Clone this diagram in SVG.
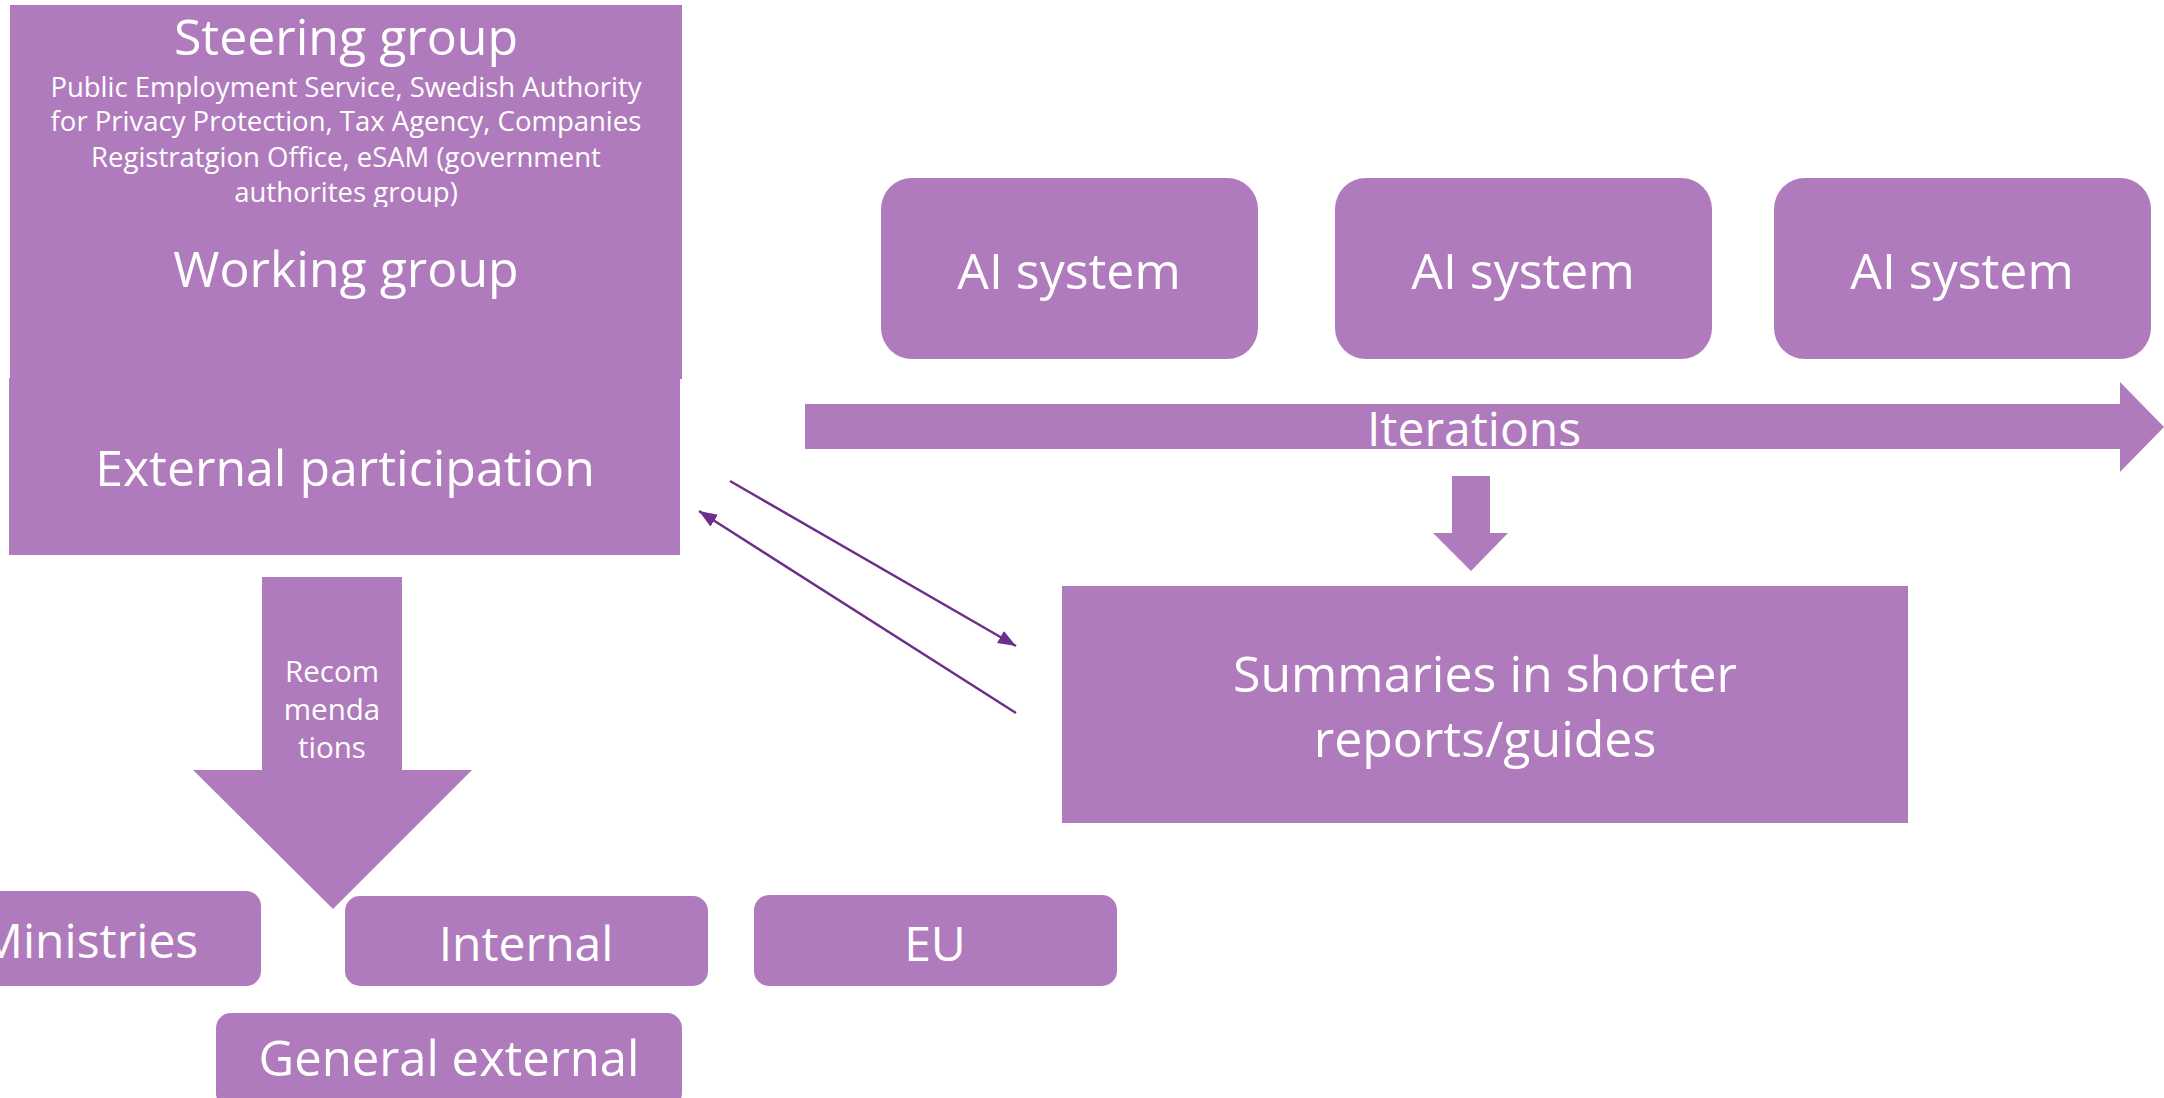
<svg xmlns="http://www.w3.org/2000/svg" width="2164" height="1098" viewBox="0 0 2164 1098">
<style>
.f{fill:#B07BBD}
.t{fill:#FFFFFF;font-family:"Open Sans","Noto Sans","Liberation Sans",sans-serif;text-anchor:middle}
.big{font-size:50px}
.sub{font-size:27.5px}
.rec{font-size:29.5px}
.ln{stroke:#6E2E8A;stroke-width:2.5;fill:none}
</style>
<defs>
<marker id="ah" markerUnits="userSpaceOnUse" markerWidth="20" markerHeight="14" refX="18" refY="7" orient="auto">
<path d="M0,0 L18,7 L0,14 z" fill="#6E2E8A"/>
</marker>
</defs>
<rect width="2164" height="1098" fill="#FFFFFF"/>

<g id="steering-group">
<rect class="f" x="10" y="5" width="672" height="203"/>
<text class="t big" x="346" y="55">Steering group</text>
<text class="t sub" x="346" y="97">Public Employment Service, Swedish Authority</text>
<text class="t sub" x="346" y="131">for Privacy Protection, Tax Agency, Companies</text>
<text class="t sub" x="346" y="167">Registratgion Office, eSAM (government</text>
<text class="t sub" x="346" y="202">authorites group)</text>
</g>

<g id="working-group">
<rect class="f" x="10" y="207" width="672" height="172"/>
<text class="t big" x="346" y="287">Working group</text>
</g>

<g id="external-participation">
<rect class="f" x="9" y="378" width="671" height="177"/>
<text class="t big" x="345" y="486">External participation</text>
</g>

<g id="ai-system-1">
<rect class="f" x="881" y="178" width="377" height="181" rx="31"/>
<text class="t big" x="1069" y="289">AI system</text>
</g>
<g id="ai-system-2">
<rect class="f" x="1335" y="178" width="377" height="181" rx="31"/>
<text class="t big" x="1523" y="289">AI system</text>
</g>
<g id="ai-system-3">
<rect class="f" x="1774" y="178" width="377" height="181" rx="31"/>
<text class="t big" x="1962" y="289">AI system</text>
</g>

<g id="iterations">
<polygon class="f" points="805,404 2120,404 2120,382 2164,427 2120,472 2120,449 805,449"/>
<text class="t" style="font-size:48px" x="1474" y="446">Iterations</text>
</g>

<g id="down-arrow">
<polygon class="f" points="1452,476 1490,476 1490,533 1508,533 1471,571 1433,533 1452,533"/>
</g>

<g id="summaries">
<rect class="f" x="1062" y="586" width="846" height="237"/>
<text class="t big" x="1485" y="692">Summaries in shorter</text>
<text class="t big" x="1485" y="757">reports/guides</text>
</g>

<g id="recommendations">
<polygon class="f" points="262,577 402,577 402,770 472,770 333,909 193,770 262,770"/>
<text class="t rec" x="332" y="682">Recom</text>
<text class="t rec" x="332" y="720">menda</text>
<text class="t rec" x="332" y="758">tions</text>
</g>

<g id="ministries">
<rect class="f" x="-85" y="891" width="346" height="95" rx="15"/>
<text class="t" style="font-size:48px" x="89" y="958">Ministries</text>
</g>

<g id="internal">
<rect class="f" x="345" y="896" width="363" height="90" rx="15"/>
<text class="t" style="font-size:48px" x="526" y="961">Internal</text>
</g>

<g id="eu">
<rect class="f" x="754" y="895" width="363" height="91" rx="15"/>
<text class="t" style="font-size:48px" x="935" y="961">EU</text>
</g>

<g id="general-external">
<rect class="f" x="216" y="1013" width="466" height="95" rx="15"/>
<text class="t" style="font-size:49px" x="449" y="1076">General external</text>
</g>

<g id="connectors">
<line class="ln" x1="730" y1="481" x2="1016" y2="646" marker-end="url(#ah)"/>
<line class="ln" x1="1016" y1="713" x2="699" y2="511" marker-end="url(#ah)"/>
</g>
</svg>
